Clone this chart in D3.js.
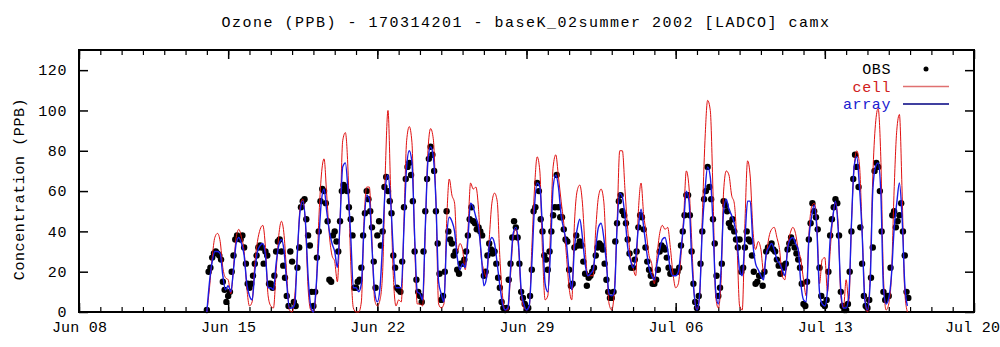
<!DOCTYPE html>
<html><head><meta charset="utf-8">
<script src="https://cdn.jsdelivr.net/npm/d3@7"></script>
<style>body{margin:0;background:#fff}svg{display:block}</style></head>
<body><svg id="c" width="1000" height="347"></svg>
<script>
const titleText = "Ozone (PPB) - 170314201 - baseK_02summer 2002 [LADCO] camx";
const yLabelText = "Concentration (PPB)";
const startTime = "2002-06-14T00:00:00";
const obsStepHours = 2;    // OBS: 12 readings per day
const modelStepHours = 3;  // cell / array: 8 readings per day
const xTickDates = ["2002-06-08","2002-06-15","2002-06-22","2002-06-29","2002-07-06","2002-07-13","2002-07-20"];
const yTickValues = [0,20,40,60,80,100,120];
const seriesNames = ["OBS","cell","array"];

// OBS, 2-hourly, Jun 14 00h .. Jul 16 22h (one row per day)
const obsValues = [
1,20,22,27,29,30,29,28,26,15,11,5,
8,10,20,28,36,38,37,36,38,32,24,14,
12,14,18,24,28,32,33,32,24,30,28,14,
14,12,18,30,35,36,30,23,17,8,3,30,
25,5,3,22,32,52,55,56,46,38,33,10,
3,10,27,40,55,61,60,54,45,16,15,38,
40,35,30,45,60,63,62,60,52,46,38,12,
12,15,16,22,38,49,60,56,50,42,25,12,
38,45,33,40,62,67,60,55,49,28,22,12,
11,10,25,52,66,72,74,68,55,30,16,10,
8,5,30,50,66,76,82,78,70,50,34,19,
6,8,20,50,40,36,34,28,30,21,19,24,
24,26,30,38,46,52,45,44,41,42,40,38,
18,20,28,34,31,29,30,24,17,12,5,2,
1,2,16,24,37,45,42,37,24,10,7,4,
1,2,8,21,50,52,64,60,46,40,28,26,
21,30,40,48,52,68,52,47,47,41,36,35,
21,13,14,32,38,33,35,33,25,19,13,17,
18,20,22,28,32,34,33,31,24,16,10,7,
7,10,35,44,55,58,50,48,44,36,29,22,
22,26,30,42,48,47,41,32,25,21,18,14,
14,16,21,30,33,32,31,27,22,19,20,20,
20,20,22,33,40,48,58,58,48,30,14,5,
2,8,24,40,56,60,72,62,56,46,34,18,
8,12,24,55,53,50,44,42,46,40,36,32,
36,20,22,32,40,36,35,28,20,14,15,18,
18,13,20,30,32,32,34,31,30,26,23,19,
23,22,24,31,34,37,35,32,29,26,22,14,
4,3,15,36,44,54,50,47,41,22,8,4,
3,6,20,38,46,52,56,54,38,10,3,1,
1,4,20,40,66,78,72,62,42,24,8,3,
2,6,17,32,70,74,72,60,40,10,6,8,
8,22,48,50,42,45,48,54,40,28,10,7];

// cell, 3-hourly, Jun 14 00h .. Jul 16 21h
const cellValues = [
0,12,27,37,39,35,22,17, 16,9,22,37,41,37,30,12, 3,5,24,35,41,43,32,8, 3,2,20,38,45,38,18,1,
0,8,28,52,56,44,12,1, 0,10,45,68,76,58,38,28, 25,15,45,85,89,70,25,2, 0,0,5,45,62,62,35,6,
3,6,20,70,100,60,18,3, 6,5,45,85,92,84,35,4, 4,3,40,80,91,86,55,4, 2,4,44,66,58,54,30,34,
31,21,40,64,61,62,51,27, 21,17,36,54,59,55,27,8, 1,1,18,37,41,32,9,2, 1,2,32,61,77,70,30,6,
8,40,72,78,67,55,44,28, 12,6,44,60,63,54,32,18, 18,18,41,57,61,55,28,4, 1,11,44,80,80,60,41,28,
22,18,50,64,48,39,28,24, 14,28,39,43,41,42,32,19, 12,14,28,47,70,62,36,8, 1,8,47,85,105,100,60,8,
2,14,60,70,68,58,54,34, 3,1,44,75,67,41,31,35, 31,20,28,37,41,42,37,31, 18,16,32,39,42,39,31,26,
16,8,38,52,54,44,14,26, 27,10,30,47,54,44,8,2, 16,5,44,72,80,73,41,8, 0,18,67,93,101,77,18,1,
4,18,60,90,98,60,10,0];

// array, 3-hourly, Jun 14 00h .. Jul 16 21h
const arrayValues = [
0,15,25,30,30,29,18,11, 13,10,21,34,37,34,28,14, 8,6,20,30,33,34,28,12, 12,11,24,33,36,30,14,2,
2,4,30,50,55,45,18,3, 0,12,35,55,61,50,40,34, 30,22,45,72,74,60,38,12, 12,10,14,42,58,56,32,10,
5,12,35,62,68,55,30,12, 12,12,42,72,80,74,38,10, 9,6,42,75,82,77,55,15, 9,5,36,47,45,40,27,21,
24,22,36,54,52,47,42,29, 13,17,33,37,34,24,13,4, 1,2,21,39,42,34,11,4, 1,3,24,52,64,62,41,14,
10,30,62,68,62,48,41,34, 20,11,32,41,46,37,24,18, 19,21,32,42,44,37,24,9, 8,10,42,59,57,47,32,26,
22,27,42,51,42,31,22,18, 16,24,31,36,37,31,21,18, 18,20,31,44,60,55,27,8, 1,9,41,60,72,67,44,11,
4,20,50,56,51,48,44,36, 21,18,36,55,55,34,24,21, 18,16,29,32,34,31,26,24, 21,18,31,36,37,34,31,14,
6,5,36,47,53,41,10,4, 3,11,36,47,55,41,11,2, 2,8,44,72,77,62,39,6, 1,14,60,72,74,60,12,4,
7,18,41,54,64,47,14,3];

const svg = d3.select("#c");
const L = 79, R = 974, T = 50, B = 312;
const parseT = d3.timeParse("%Y-%m-%dT%H:%M:%S");
const parseD = d3.timeParse("%Y-%m-%d");
const t0 = parseT(startTime);
const obsTimes = obsValues.map((_, i) => d3.timeHour.offset(t0, i * obsStepHours));
const modelTimes = cellValues.map((_, i) => d3.timeHour.offset(t0, i * modelStepHours));
const xTicks = xTickDates.map(parseD);
const x = d3.scaleTime().domain([xTicks[0], xTicks[xTicks.length - 1]]).range([L, R]);
const y = d3.scaleLinear().domain([0, 130]).range([B, T]);
const font = "'Liberation Mono', 'DejaVu Sans Mono', monospace";
const fs = 15;

const minorDays = d3.timeDay.range(xTicks[0], xTicks[xTicks.length - 1]);
function styleTicks(g, w) { g.select(".domain").remove(); g.selectAll("line").attr("stroke", "#000").attr("stroke-width", w); }

// minor ticks (bottom / top)
svg.append("g").attr("transform", `translate(0,${B})`)
  .call(d3.axisBottom(x).tickValues(minorDays).tickSize(-5).tickFormat("")).call(g => styleTicks(g, 1.2));
svg.append("g").attr("transform", `translate(0,${T})`)
  .call(d3.axisTop(x).tickValues(minorDays).tickSize(-5).tickFormat("")).call(g => styleTicks(g, 1.2));

// major x ticks
const xb = svg.append("g").attr("transform", `translate(0,${B})`)
  .call(d3.axisBottom(x).tickValues(xTicks).tickSize(-9).tickPadding(12).tickFormat(d3.timeFormat("%b %d")));
styleTicks(xb, 1.5);
xb.selectAll("text").attr("font-family", font).attr("font-size", fs).attr("letter-spacing", 0.2)
  .attr("fill", "#000").attr("dy", "0.55em");
xb.selectAll(".tick:last-of-type text").attr("dx", -2);
svg.append("g").attr("transform", `translate(0,${T})`)
  .call(d3.axisTop(x).tickValues(xTicks).tickSize(-9).tickFormat("")).call(g => styleTicks(g, 1.5));

// y axes
const yl = svg.append("g").attr("transform", `translate(${L},0)`)
  .call(d3.axisLeft(y).tickValues(yTickValues).tickSize(-9).tickPadding(12));
styleTicks(yl, 1.5);
yl.selectAll("text").attr("font-family", font).attr("font-size", fs).attr("letter-spacing", 0.6).attr("fill", "#000");
svg.append("g").attr("transform", `translate(${R},0)`)
  .call(d3.axisRight(y).tickValues(yTickValues).tickSize(-9).tickFormat("")).call(g => styleTicks(g, 1.5));

// frame
svg.append("rect").attr("x", L).attr("y", T).attr("width", R - L).attr("height", B - T)
  .attr("fill", "none").attr("stroke", "#000").attr("stroke-width", 2);

// data: OBS points, then cell, then array on top
svg.append("g").selectAll("circle").data(obsValues).join("circle")
  .attr("cx", (d, i) => x(obsTimes[i])).attr("cy", d => y(d)).attr("r", 3.2).attr("fill", "#000");

const line = d3.line().x((d, i) => x(modelTimes[i])).y(d => y(d)).curve(d3.curveMonotoneX);
svg.append("path").datum(cellValues).attr("d", line).attr("fill", "none")
  .attr("stroke", "#e01010").attr("stroke-width", 1);
svg.append("path").datum(arrayValues).attr("d", line).attr("fill", "none")
  .attr("stroke", "#1a1ae6").attr("stroke-width", 1.4);

// title & y label
svg.append("text").attr("x", 526).attr("y", 27).attr("text-anchor", "middle")
  .attr("font-family", font).attr("font-size", fs).attr("letter-spacing", 1.5).text(titleText);
svg.append("text").attr("transform", "translate(24,189) rotate(-90)").attr("text-anchor", "middle")
  .attr("font-family", font).attr("font-size", fs).attr("letter-spacing", 0.6).text(yLabelText);

// legend
const legendText = ["#000", "#d02020", "#2020d0"];
const legendLine = [null, "#e07070", "#000080"];
seriesNames.forEach((n, i) => {
  const ly = 69 + i * 17.5;
  svg.append("text").attr("x", 891).attr("y", ly).attr("dy", "0.35em").attr("text-anchor", "end")
    .attr("font-family", font).attr("font-size", fs).attr("letter-spacing", 0.6).attr("fill", legendText[i]).text(n);
  if (i === 0) svg.append("circle").attr("cx", 926).attr("cy", ly).attr("r", 2.5).attr("fill", "#000");
  else svg.append("line").attr("x1", 903).attr("x2", 949).attr("y1", ly).attr("y2", ly)
    .attr("stroke", legendLine[i]).attr("stroke-width", 1.3);
});
</script></body></html>
